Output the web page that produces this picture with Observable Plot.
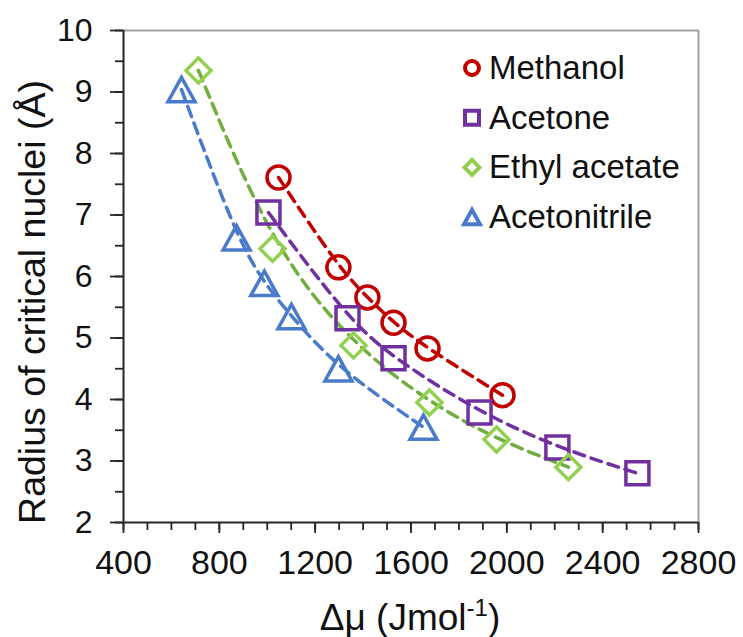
<!DOCTYPE html>
<html><head><meta charset="utf-8">
<script src="https://cdn.jsdelivr.net/npm/d3@7"></script>
<script src="https://cdn.jsdelivr.net/npm/@observablehq/plot@0.6"></script>
<style>body{margin:0;background:#fff;}</style>
</head><body><div id="chart"></div>
<script>
// ---- data ----
const seriesNames = ["Methanol", "Acetone", "Ethyl acetate", "Acetonitrile"];
const methanolX = [1047, 1297, 1418, 1527, 1669, 1982];
const methanolY = [7.61, 6.15, 5.66, 5.25, 4.83, 4.07];
const acetoneX = [1005, 1335, 1527, 1886, 2211, 2545];
const acetoneY = [7.04, 5.32, 4.67, 3.79, 3.22, 2.80];
const ethylX = [713, 1022, 1360, 1677, 1957, 2257];
const ethylY = [9.35, 6.45, 4.88, 3.95, 3.35, 2.90];
const nitrileX = [642, 872, 988, 1101, 1297, 1652];
const nitrileY = [9.04, 6.63, 5.89, 5.35, 4.50, 3.55];

const xTicks = [400, 800, 1200, 1600, 2000, 2400, 2800];
const xTickLabels = ["400", "800", "1200", "1600", "2000", "2400", "2800"];
const yTicks = [2, 3, 4, 5, 6, 7, 8, 9, 10];
const yTickLabels = ["2", "3", "4", "5", "6", "7", "8", "9", "10"];
const xMinorTicks = d3.range(400, 2801, 100);
const yMinorTicks = d3.range(2, 10.01, 0.5);

const xTitle = "Δμ (Jmol";
const xTitleSup = "-1";
const yTitle = "Radius of critical nuclei (Å)";

// ---- styling ----
const markerColor = {"Methanol": "#C00000", "Acetone": "#7030A0", "Ethyl acetate": "#92D050", "Acetonitrile": "#4A7BCB"};
const lineColor = {"Methanol": "#C00000", "Acetone": "#7030A0", "Ethyl acetate": "#6FAE3F", "Acetonitrile": "#4A7BCB"};

const rOf = size => Math.sqrt(size / Math.PI);
const squareSym = {draw(ctx, size) { const r = rOf(size); ctx.moveTo(-r, -r); ctx.lineTo(r, -r); ctx.lineTo(r, r); ctx.lineTo(-r, r); ctx.closePath(); }};
const diamondSym = {draw(ctx, size) { const r = rOf(size); ctx.moveTo(0, -r); ctx.lineTo(r, 0); ctx.lineTo(0, r); ctx.lineTo(-r, 0); ctx.closePath(); }};
const triangleSym = {draw(ctx, size) { const r = rOf(size); const h = r * 0.9; ctx.moveTo(0, -h); ctx.lineTo(r, h); ctx.lineTo(-r, h); ctx.closePath(); }};
const circleSym = d3.symbolCircle;
const symbolOf = {"Methanol": circleSym, "Acetone": squareSym, "Ethyl acetate": diamondSym, "Acetonitrile": triangleSym};
const markerR = {"Methanol": 11.5, "Acetone": 11.5, "Ethyl acetate": 12.5, "Acetonitrile": 13.5};
const legendR = {"Methanol": 7, "Acetone": 7, "Ethyl acetate": 7.5, "Acetonitrile": 8};

const seriesData = {
  "Methanol": methanolX.map((x, i) => ({series: "Methanol", x, y: methanolY[i]})),
  "Acetone": acetoneX.map((x, i) => ({series: "Acetone", x, y: acetoneY[i]})),
  "Ethyl acetate": ethylX.map((x, i) => ({series: "Ethyl acetate", x, y: ethylY[i]})),
  "Acetonitrile": nitrileX.map((x, i) => ({series: "Acetonitrile", x, y: nitrileY[i]}))
};

const axisColor = "#262626";
const frameColor = "#A0A0A0";
const font = "'Liberation Sans', Arial, sans-serif";

const marks = [
  Plot.ruleY([10], {stroke: frameColor, strokeWidth: 2}),
  Plot.ruleX([2800], {stroke: frameColor, strokeWidth: 2}),
  Plot.axisX({ticks: xMinorTicks, tickSize: 8, fill: "none", stroke: axisColor, strokeWidth: 1.8, label: null}),
  Plot.axisX({ticks: xTicks, tickSize: 11, tickPadding: 16, fontSize: 34, fill: "#111", stroke: axisColor, strokeWidth: 1.8, label: null,
    tickFormat: d => xTickLabels[xTicks.indexOf(d)]}),
  Plot.axisY({ticks: yMinorTicks, tickSize: 8, fill: "none", stroke: axisColor, strokeWidth: 1.8, label: null}),
  Plot.axisY({ticks: yTicks, tickSize: 13, tickPadding: 18, fontSize: 32, fill: "#111", stroke: axisColor, strokeWidth: 1.8, label: null,
    tickFormat: d => yTickLabels[yTicks.indexOf(d)]}),
  Plot.ruleY([2], {stroke: axisColor, strokeWidth: 2}),
  Plot.ruleX([400], {stroke: axisColor, strokeWidth: 2})
];
for (const s of seriesNames) {
  marks.push(Plot.line(seriesData[s], {x: "x", y: "y", curve: "basis", stroke: lineColor[s], strokeWidth: 3.5, strokeDasharray: "11,7"}));
}
for (const s of seriesNames) {
  marks.push(Plot.dot(seriesData[s], {x: "x", y: "y", symbol: symbolOf[s], r: markerR[s], stroke: markerColor[s], strokeWidth: 3.5, fill: "none"}));
}

const svg = Plot.plot({
  width: 743,
  height: 637,
  marginLeft: 123,
  marginRight: 45,
  marginTop: 30,
  marginBottom: 115,
  x: {domain: [400, 2800], axis: null},
  y: {domain: [2, 10], axis: null},
  style: {fontFamily: font, background: "#fff", overflow: "visible"},
  marks
});

const g = d3.select(svg);
// y title
g.append("text")
  .attr("transform", "translate(45,302) rotate(-90)")
  .attr("text-anchor", "middle")
  .attr("fill", "#111")
  .style("font-family", font).style("font-size", "37.5px")
  .text(yTitle);
// x title
const xt = g.append("text")
  .attr("x", 410).attr("y", 630)
  .attr("text-anchor", "middle")
  .attr("fill", "#111")
  .style("font-family", font).style("font-size", "37px");
xt.append("tspan").text(xTitle);
xt.append("tspan").attr("dy", -14).style("font-size", "24px").text(xTitleSup);
xt.append("tspan").attr("dy", 14).text(")");

// legend
const legendY0 = 68, legendStep = 49.7;
seriesNames.forEach((s, i) => {
  const cy = legendY0 + i * legendStep;
  const r = legendR[s];
  g.append("path")
    .attr("d", d3.symbol(symbolOf[s], r * r * Math.PI)())
    .attr("transform", `translate(472,${cy})`)
    .attr("fill", "none").attr("stroke", markerColor[s]).attr("stroke-width", 4);
  g.append("text")
    .attr("x", 489).attr("y", cy + 11)
    .attr("text-anchor", "start")
    .attr("fill", "#111")
    .style("font-family", font).style("font-size", "33px")
    .text(s);
});

document.getElementById("chart").appendChild(svg);
</script>
</body></html>
